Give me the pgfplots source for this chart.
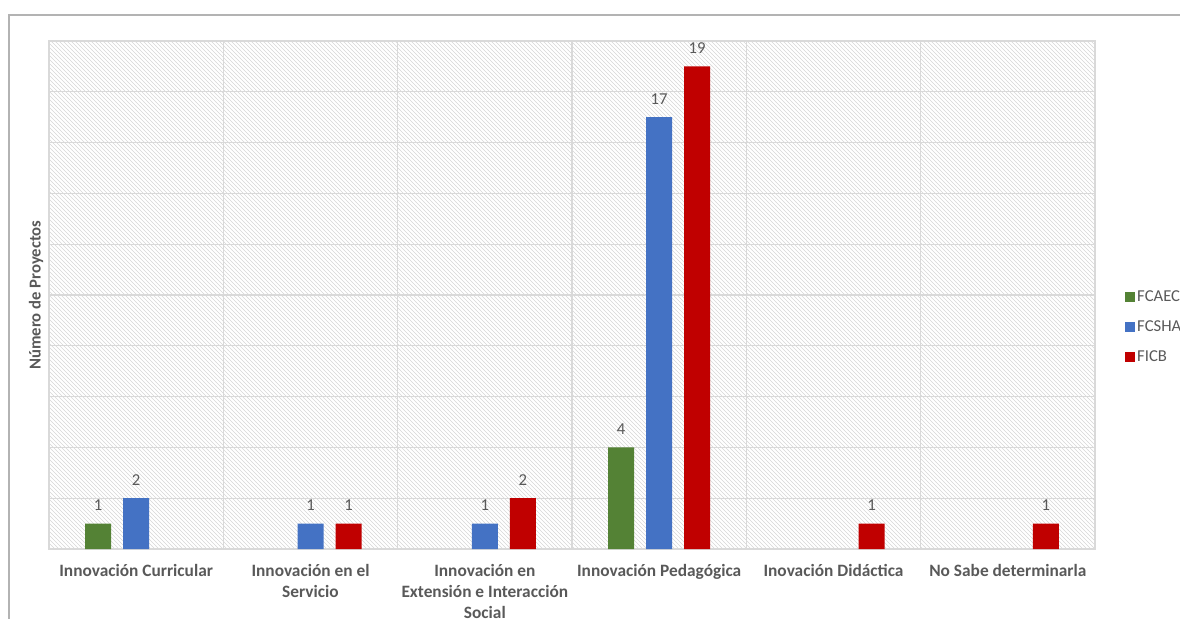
\documentclass[border=0pt]{standalone}
\usepackage{pgfplots}
\pgfplotsset{compat=1.18}
\usepackage{fontspec}
\setmainfont{Carlito}
\usetikzlibrary{patterns}
\definecolor{cgreen}{HTML}{548235}
\definecolor{cblue}{HTML}{4472C4}
\definecolor{cred}{HTML}{C00000}
\definecolor{ctext}{HTML}{595959}
\definecolor{cgrid}{HTML}{D9D9D9}
\definecolor{chatch}{HTML}{D6D6D6}
\definecolor{cframe}{HTML}{B3B3B3}
\begin{document}
\begin{tikzpicture}
\path[use as bounding box, clip] (0,0) rectangle (885pt,463.5pt);
\draw[cframe, line width=1.5pt] (7pt,-20pt) -- (7pt,452pt) -- (900pt,452pt);
\begin{axis}[
  at={(36.75pt,51.75pt)}, anchor=south west,
  scale only axis, width=784.5pt, height=381pt,
  /pgf/number format/assume math mode=true,
  ybar=9pt, bar width=19.5pt,
  xmin=-0.5, xmax=5.5, ymin=0, ymax=20,
  ytick={0,2,...,20}, yticklabels={},
  xtick={0,1,2,3,4,5},
  xticklabels={Innovación Curricular, {Innovación en el\\Servicio}, {Innovación en\\Extensión e Interacción\\Social}, Innovación Pedagógica, Inovación Didáctica, No Sabe determinarla},
  xticklabel style={align=center, font=\fontsize{13}{15.75}\selectfont\bfseries, text=ctext, yshift=-8pt},
  minor xtick={-0.5,0.5,...,5.5},
  major tick length=0pt, minor tick length=0pt,
  ymajorgrids, xminorgrids,
  grid style={cgrid, line width=0.9pt},
  minor grid style={cgrid, line width=0.9pt},
  axis line style={cgrid, line width=0.9pt},
  axis background/.style={pattern=north west lines, pattern color=chatch},
  ylabel={Número de Proyectos},
  ylabel style={font=\fontsize{12.5}{14}\selectfont\bfseries, text=ctext, yshift=-6pt},
  nodes near coords,
  every node near coord/.append style={font=\fontsize{12.5}{14}\selectfont, text=ctext, yshift=6pt},
  legend image code/.code={\path[#1, draw=none] (0pt,-3.75pt) rectangle (7.5pt,3.75pt);},
  legend style={at={(1.028,0.437)}, anchor=west, draw=none, fill=none,
    font=\fontsize{12.5}{14}\selectfont, text=ctext, row sep=9pt,
    inner sep=0pt},
  legend cell align=left,
]
\addplot[fill=cgreen, draw=none] coordinates {(0,1) (3,4)};
\addplot[fill=cblue, draw=none] coordinates {(0,2) (1,1) (2,1) (3,17)};
\addplot[fill=cred, draw=none] coordinates {(1,1) (2,2) (3,19) (4,1) (5,1)};
\legend{FCAEC, FCSHA, FICB}
\end{axis}
\end{tikzpicture}
\end{document}
